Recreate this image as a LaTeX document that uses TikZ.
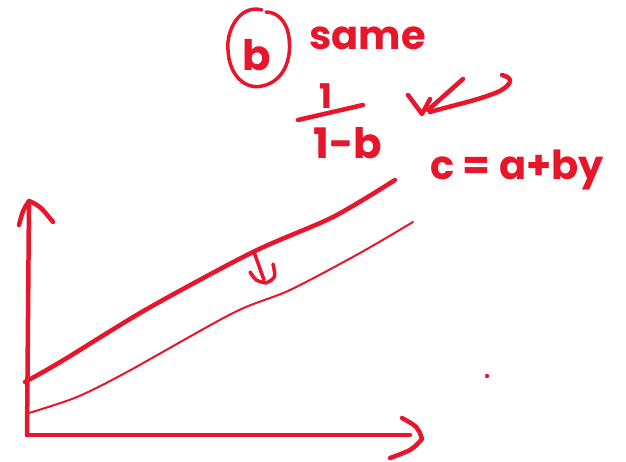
\documentclass[tikz,border=0pt]{standalone}
\usepackage{fontspec}
\setmainfont{Poppins}
\definecolor{ink}{RGB}{232,22,42}
\begin{document}
\begin{tikzpicture}[x=1pt,y=-1pt,
  pen/.style={draw=ink,line cap=round,line join=round},
  thickpen/.style={pen,line width=4.5pt},
  midpen/.style={pen,line width=3.5pt},
  thinpen/.style={pen,line width=2pt},
  hand/.style={text=ink,inner sep=0pt,font=\fontsize{40}{44}\selectfont}]
\useasboundingbox[fill=white] (0,0) rectangle (626,462);
% axes
\coordinate (O) at (27,435);
\coordinate (Ytop) at (29,201);
\coordinate (Xend) at (410,435);
\draw[thickpen] (O) -- (Ytop);
\draw[thickpen] (19,225) .. controls (23,210) .. (Ytop) .. controls (40,206) .. (53,222);
\draw[thickpen] (O) -- (Xend);
\draw[thickpen] (402,418) .. controls (418,427) .. (422,439) .. controls (412,450) .. (390,458);
% upper (thick) line
\draw[thickpen] plot[smooth,tension=0.5] coordinates {(25,382) (62,361) (147,309) (253,252) (333,217) (395,180)};
% lower (thin) line
\draw[thinpen] plot[smooth,tension=0.5] coordinates {(29,413) (77,397) (127,372) (233,313) (290,290) (360,253) (413,222)};
% shift arrow
\coordinate (As) at (254,252);
\coordinate (Ae) at (264,280);
\draw[midpen] (As) -- (Ae);
\draw[midpen] (250,272) .. controls (256,281) .. (266,283) .. controls (276,278) .. (273,264);
% dot
\fill[ink] (487,376) circle (2.2pt);
% circled b
\node[hand,font=\fontsize{42}{44}\selectfont\bfseries] (b) at (257,55) {b};
\draw[pen,line width=3.5pt] (262,10) .. controls (240,4) and (226,30) .. (228,50) .. controls (229,75) and (245,90) .. (262,86) .. controls (283,82) and (292,60) .. (289,38) .. controls (287,20) and (276,12) .. (266,12);
% same
\node[hand,anchor=base west,font=\fontsize{40}{44}\selectfont\bfseries] (same) at (309,50) {same};
% fraction
\node[hand,font=\fontsize{34}{36}\selectfont\bfseries] (num) at (326,96) {1};
\draw[thickpen] (298,120) -- (363,105);
\node[hand,font=\fontsize{42}{44}\selectfont\bfseries] (den) at (348,143) {1-b};
% scribble
\draw[thickpen] (408,95) .. controls (415,105) .. (422,114) .. controls (426,106) .. (430,99);
\draw[thickpen] (428,110) -- (463,79);
\draw[thickpen] (430,112) .. controls (450,106) and (480,100) .. (500,91) .. controls (512,84) and (514,78) .. (502,75);
% equation
\node[hand,anchor=base west,font=\fontsize{40}{44}\selectfont\bfseries] (eq) at (430,180) {c = a+by};
\end{tikzpicture}
\end{document}
